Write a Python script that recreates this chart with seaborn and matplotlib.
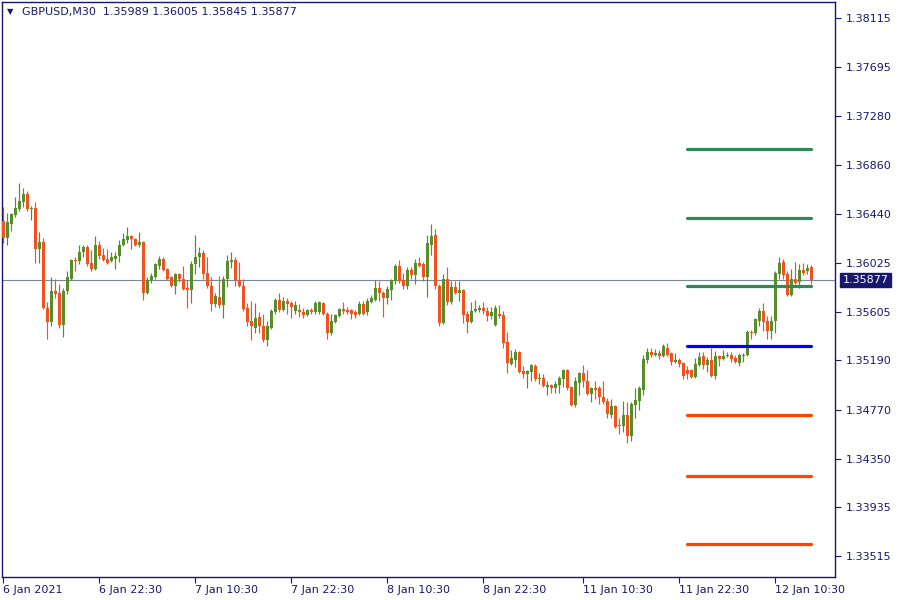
import matplotlib
matplotlib.use("Agg")
import matplotlib.pyplot as plt
import matplotlib.transforms as mtransforms
import numpy as np
import pandas as pd
import seaborn as sns

# GBPUSD M30 candles (bar index = position on the time axis)
opens = [
    1.3638, 1.3624, 1.3636, 1.3643, 1.3648, 1.3654, 1.3661, 1.3648, 1.3649, 1.3614,
    1.3620, 1.3564, 1.3552, 1.3578, 1.3577, 1.3549, 1.3578, 1.3589, 1.3605, 1.3604,
    1.3612, 1.3616, 1.3602, 1.3597, 1.3618, 1.3609, 1.3606, 1.3604, 1.3606, 1.3608,
    1.3618, 1.3622, 1.3625, 1.3623, 1.3618, 1.3620, 1.3577, 1.3588, 1.3590, 1.3600,
    1.3606, 1.3597, 1.3590, 1.3583, 1.3593, 1.3589, 1.3581, 1.3579, 1.3601, 1.3607,
    1.3611, 1.3594, 1.3583, 1.3567, 1.3573, 1.3566, 1.3589, 1.3603, 1.3605, 1.3588,
    1.3583, 1.3564, 1.3553, 1.3547, 1.3556, 1.3548, 1.3536, 1.3547, 1.3560, 1.3571,
    1.3562, 1.3570, 1.3568, 1.3561, 1.3562, 1.3560, 1.3558, 1.3562, 1.3560, 1.3560,
    1.3568, 1.3559, 1.3542, 1.3552, 1.3557, 1.3563, 1.3562, 1.3562, 1.3560, 1.3559,
    1.3567, 1.3560, 1.3569, 1.3571, 1.3581, 1.3577, 1.3572, 1.3579, 1.3587, 1.3600,
    1.3588, 1.3583, 1.3596, 1.3592, 1.3602, 1.3601, 1.3590, 1.3618, 1.3626, 1.3583,
    1.3551, 1.3589, 1.3569, 1.3582, 1.3577, 1.3579, 1.3559, 1.3552, 1.3561, 1.3562,
    1.3564, 1.3561, 1.3557, 1.3549, 1.3559, 1.3558, 1.3535, 1.3516, 1.3519, 1.3526,
    1.3510, 1.3507, 1.3509, 1.3514, 1.3503, 1.3504, 1.3496, 1.3498, 1.3495, 1.3498,
    1.3503, 1.3511, 1.3496, 1.3481, 1.3500, 1.3508, 1.3501, 1.3490, 1.3495, 1.3495,
    1.3488, 1.3484, 1.3472, 1.3480, 1.3464, 1.3463, 1.3472, 1.3454, 1.3481, 1.3484,
    1.3494, 1.3519, 1.3526, 1.3524, 1.3525, 1.3523, 1.3530, 1.3525, 1.3518, 1.3519,
    1.3517, 1.3511, 1.3511, 1.3505, 1.3515, 1.3523, 1.3515, 1.3519, 1.3506, 1.3523,
    1.3520, 1.3523, 1.3524, 1.3521, 1.3517, 1.3523, 1.3524, 1.3543, 1.3542, 1.3553,
    1.3561, 1.3553, 1.3544, 1.3553, 1.3593, 1.3603, 1.3593, 1.3575, 1.3589, 1.3586,
    1.3596, 1.3595, 1.35989,
]
highs = [
    1.3650, 1.3645, 1.3645, 1.3659, 1.3671, 1.3666, 1.3664, 1.3651, 1.3654, 1.3629,
    1.3624, 1.3569, 1.3590, 1.3589, 1.3584, 1.3581, 1.3595, 1.3606, 1.3607, 1.3618,
    1.3618, 1.3618, 1.3613, 1.3625, 1.3621, 1.3615, 1.3614, 1.3612, 1.3612, 1.3622,
    1.3628, 1.3633, 1.3626, 1.3624, 1.3629, 1.3621, 1.3590, 1.3594, 1.3602, 1.3608,
    1.3607, 1.3598, 1.3591, 1.3594, 1.3594, 1.3600, 1.3588, 1.3604, 1.3626, 1.3616,
    1.3613, 1.3607, 1.3590, 1.3577, 1.3591, 1.3591, 1.3609, 1.3612, 1.3607, 1.3603,
    1.3589, 1.3568, 1.3570, 1.3568, 1.3560, 1.3559, 1.3553, 1.3563, 1.3572, 1.3577,
    1.3573, 1.3572, 1.3570, 1.3570, 1.3567, 1.3564, 1.3563, 1.3564, 1.3570, 1.3570,
    1.3569, 1.3560, 1.3559, 1.3559, 1.3564, 1.3569, 1.3565, 1.3563, 1.3562, 1.3570,
    1.3570, 1.3572, 1.3575, 1.3588, 1.3587, 1.3578, 1.3583, 1.3589, 1.3601, 1.3605,
    1.3594, 1.3599, 1.3599, 1.3606, 1.3607, 1.3603, 1.3626, 1.3636, 1.3631, 1.3584,
    1.3593, 1.3599, 1.3587, 1.3587, 1.3587, 1.3580, 1.3561, 1.3569, 1.3571, 1.3566,
    1.3569, 1.3565, 1.3565, 1.3566, 1.3566, 1.3561, 1.3543, 1.3528, 1.3529, 1.3527,
    1.3514, 1.3511, 1.3516, 1.3516, 1.3508, 1.3507, 1.3501, 1.3499, 1.3501, 1.3506,
    1.3512, 1.3512, 1.3497, 1.3505, 1.3509, 1.3515, 1.3511, 1.3496, 1.3501, 1.3497,
    1.3501, 1.3487, 1.3486, 1.3481, 1.3470, 1.3484, 1.3483, 1.3483, 1.3495, 1.3497,
    1.3524, 1.3530, 1.3530, 1.3529, 1.3528, 1.3533, 1.3534, 1.3526, 1.3525, 1.3521,
    1.3518, 1.3514, 1.3512, 1.3521, 1.3526, 1.3526, 1.3522, 1.3530, 1.3527, 1.3524,
    1.3528, 1.3526, 1.3526, 1.3524, 1.3525, 1.3525, 1.3545, 1.3545, 1.3555, 1.3564,
    1.3568, 1.3557, 1.3557, 1.3595, 1.3607, 1.3606, 1.3595, 1.3597, 1.3603, 1.3601,
    1.3602, 1.3601, 1.36005,
]
lows = [
    1.3619, 1.3618, 1.3630, 1.3642, 1.3647, 1.3650, 1.3647, 1.3639, 1.3602, 1.3602,
    1.3563, 1.3537, 1.3548, 1.3572, 1.3547, 1.3539, 1.3576, 1.3588, 1.3595, 1.3601,
    1.3607, 1.3600, 1.3595, 1.3596, 1.3606, 1.3604, 1.3601, 1.3603, 1.3597, 1.3603,
    1.3617, 1.3619, 1.3614, 1.3617, 1.3616, 1.3571, 1.3576, 1.3585, 1.3589, 1.3597,
    1.3595, 1.3588, 1.3582, 1.3576, 1.3586, 1.3579, 1.3564, 1.3568, 1.3593, 1.3599,
    1.3589, 1.3581, 1.3561, 1.3565, 1.3564, 1.3555, 1.3582, 1.3598, 1.3583, 1.3582,
    1.3561, 1.3548, 1.3536, 1.3542, 1.3542, 1.3535, 1.3531, 1.3546, 1.3559, 1.3560,
    1.3561, 1.3559, 1.3555, 1.3559, 1.3556, 1.3555, 1.3557, 1.3559, 1.3559, 1.3559,
    1.3558, 1.3537, 1.3541, 1.3551, 1.3556, 1.3559, 1.3559, 1.3554, 1.3555, 1.3558,
    1.3558, 1.3558, 1.3568, 1.3570, 1.3570, 1.3556, 1.3567, 1.3571, 1.3584, 1.3585,
    1.3580, 1.3580, 1.3589, 1.3584, 1.3599, 1.3587, 1.3573, 1.3609, 1.3580, 1.3548,
    1.3550, 1.3566, 1.3567, 1.3576, 1.3570, 1.3551, 1.3542, 1.3551, 1.3560, 1.3560,
    1.3559, 1.3553, 1.3554, 1.3548, 1.3555, 1.3530, 1.3508, 1.3515, 1.3513, 1.3508,
    1.3504, 1.3495, 1.3501, 1.3501, 1.3499, 1.3496, 1.3489, 1.3491, 1.3491, 1.3491,
    1.3496, 1.3494, 1.3480, 1.3479, 1.3489, 1.3496, 1.3489, 1.3483, 1.3486, 1.3482,
    1.3482, 1.3470, 1.3470, 1.3461, 1.3456, 1.3458, 1.3448, 1.3450, 1.3470, 1.3477,
    1.3489, 1.3517, 1.3522, 1.3523, 1.3520, 1.3522, 1.3523, 1.3515, 1.3517, 1.3513,
    1.3503, 1.3503, 1.3504, 1.3504, 1.3514, 1.3512, 1.3509, 1.3505, 1.3503, 1.3514,
    1.3519, 1.3522, 1.3518, 1.3517, 1.3514, 1.3518, 1.3523, 1.3537, 1.3541, 1.3548,
    1.3544, 1.3537, 1.3537, 1.3542, 1.3589, 1.3589, 1.3574, 1.3574, 1.3584, 1.3581,
    1.3592, 1.3593, 1.35845,
]
closes = [
    1.3624, 1.3637, 1.3644, 1.3649, 1.3655, 1.3661, 1.3648, 1.3649, 1.3614, 1.3620,
    1.3564, 1.3552, 1.3578, 1.3576, 1.3549, 1.3578, 1.3590, 1.3605, 1.3604, 1.3612,
    1.3616, 1.3601, 1.3597, 1.3618, 1.3608, 1.3605, 1.3602, 1.3607, 1.3608, 1.3618,
    1.3623, 1.3625, 1.3623, 1.3618, 1.3620, 1.3577, 1.3588, 1.3591, 1.3601, 1.3606,
    1.3596, 1.3589, 1.3583, 1.3593, 1.3589, 1.3580, 1.3579, 1.3601, 1.3607, 1.3611,
    1.3593, 1.3583, 1.3567, 1.3574, 1.3566, 1.3589, 1.3604, 1.3605, 1.3588, 1.3583,
    1.3563, 1.3552, 1.3548, 1.3555, 1.3548, 1.3536, 1.3548, 1.3561, 1.3571, 1.3562,
    1.3570, 1.3567, 1.3565, 1.3566, 1.3560, 1.3558, 1.3562, 1.3560, 1.3568, 1.3569,
    1.3559, 1.3542, 1.3553, 1.3558, 1.3563, 1.3561, 1.3560, 1.3559, 1.3558, 1.3567,
    1.3559, 1.3570, 1.3572, 1.3581, 1.3577, 1.3572, 1.3580, 1.3588, 1.3600, 1.3587,
    1.3583, 1.3596, 1.3592, 1.3602, 1.3600, 1.3590, 1.3619, 1.3625, 1.3583, 1.3551,
    1.3589, 1.3569, 1.3582, 1.3577, 1.3579, 1.3558, 1.3552, 1.3561, 1.3563, 1.3564,
    1.3561, 1.3557, 1.3560, 1.3564, 1.3557, 1.3534, 1.3517, 1.3521, 1.3526, 1.3509,
    1.3507, 1.3510, 1.3515, 1.3503, 1.3504, 1.3497, 1.3498, 1.3495, 1.3499, 1.3504,
    1.3511, 1.3495, 1.3481, 1.3501, 1.3508, 1.3501, 1.3490, 1.3495, 1.3494, 1.3488,
    1.3483, 1.3473, 1.3480, 1.3462, 1.3463, 1.3472, 1.3454, 1.3482, 1.3485, 1.3495,
    1.3520, 1.3526, 1.3524, 1.3525, 1.3523, 1.3531, 1.3524, 1.3518, 1.3519, 1.3516,
    1.3506, 1.3507, 1.3505, 1.3516, 1.3522, 1.3515, 1.3519, 1.3506, 1.3523, 1.3520,
    1.3523, 1.3524, 1.3520, 1.3518, 1.3524, 1.3524, 1.3543, 1.3542, 1.3554, 1.3561,
    1.3552, 1.3544, 1.3553, 1.3594, 1.3602, 1.3592, 1.3575, 1.3589, 1.3585, 1.3596,
    1.3594, 1.3598, 1.35877,
]

# support / resistance levels drawn over the last bars
level_names = ["R3", "R2", "R1", "P", "S1", "S2", "S3"]
level_prices = [1.3700, 1.3641, 1.3583, 1.3531, 1.3472, 1.3420, 1.3362]
level_start = 171
level_end = 202

price_ticks = [1.38115, 1.37695, 1.37280, 1.36860, 1.36440, 1.36025,
               1.35605, 1.35190, 1.34770, 1.34350, 1.33935, 1.33515]
time_tick_pos = [0, 24, 48, 72, 96, 120, 145, 169, 193]
time_tick_labels = ["6 Jan 2021", "6 Jan 22:30", "7 Jan 10:30", "7 Jan 22:30",
                    "8 Jan 10:30", "8 Jan 22:30", "11 Jan 10:30", "11 Jan 22:30",
                    "12 Jan 10:30"]
symbol = "GBPUSD,M30"
last_price = 1.35877

NAVY = "#17176e"
BULL = "#578e2b"
BEAR = "#f4511e"
level_colors = {"R3": "#2e8b57", "R2": "#2e8b57", "R1": "#2e8b57", "P": "#0000ff",
                "S1": "#ff4500", "S2": "#ff4500", "S3": "#ff4500"}

df = pd.DataFrame({"open": opens, "high": highs, "low": lows, "close": closes})
df["bar"] = np.arange(len(df))
df["up"] = df["close"] >= df["open"]
df["color"] = np.where(df["up"], BULL, BEAR)
df["body_lo"] = df[["open", "close"]].min(axis=1)
df["body_h"] = (df["close"] - df["open"]).abs().clip(lower=0.00009)

levels = pd.DataFrame({
    "level": level_names * 2,
    "price": level_prices * 2,
    "bar": [level_start] * len(level_names) + [level_end] * len(level_names),
})

sns.set_style("white")
plt.rcParams["font.family"] = ["DejaVu Sans"]

fig = plt.figure(figsize=(9, 6), dpi=100)
ax = fig.add_axes([2 / 900, 23 / 600, 833 / 900, 575 / 600])

# last price line
ax.axhline(last_price, color="#778899", lw=0.8, zorder=1)

# candles: wicks then bodies
ax.vlines(df["bar"], df["low"], df["high"], colors=df["color"], lw=0.85, zorder=2)
ax.bar(df["bar"], df["body_h"], bottom=df["body_lo"], width=0.7,
       color=df["color"], linewidth=0, zorder=3)

# levels
sns.lineplot(data=levels, x="bar", y="price", hue="level", palette=level_colors,
             hue_order=level_names, linewidth=2.3, legend=False, ax=ax, zorder=4)

ax.set_xlim(-0.33, 207.9)
ax.set_ylim(1.33338, 1.38254)
ax.set_xlabel("")
ax.set_ylabel("")

ax.yaxis.tick_right()
ax.set_yticks(price_ticks)
ax.set_yticklabels([f"{p:.5f}" for p in price_ticks])
ax.set_xticks(time_tick_pos)
ax.set_xticklabels(time_tick_labels)
for lab in ax.get_xticklabels():
    lab.set_horizontalalignment("left")

ax.tick_params(axis="both", direction="out", length=4, width=0.8, color=NAVY,
               labelcolor=NAVY, labelsize=8)
ax.tick_params(axis="x", pad=2, bottom=True)
ax.tick_params(axis="y", pad=4, right=True, left=False)

for sp in ax.spines.values():
    sp.set_color(NAVY)
    sp.set_linewidth(1.0)
    sp.set_visible(True)

# current price tag on the price scale
trans = mtransforms.blended_transform_factory(ax.transAxes, ax.transData)
ax.text(1.0095, last_price, f"{last_price:.5f}", transform=trans, color="white",
        fontsize=8, va="center", ha="left", zorder=10, clip_on=False,
        bbox=dict(boxstyle="square,pad=0.22", fc=NAVY, ec=NAVY))

# header
fig.text(7 / 900, 1 - 12 / 600, "\u25bc", color=NAVY, fontsize=6, va="center", ha="left")
fig.text(22 / 900, 1 - 12 / 600,
         f"{symbol}  {opens[-1]:.5f} {highs[-1]:.5f} {lows[-1]:.5f} {closes[-1]:.5f}",
         color=NAVY, fontsize=8, va="center", ha="left")

fig.savefig("out.png", dpi=100)
